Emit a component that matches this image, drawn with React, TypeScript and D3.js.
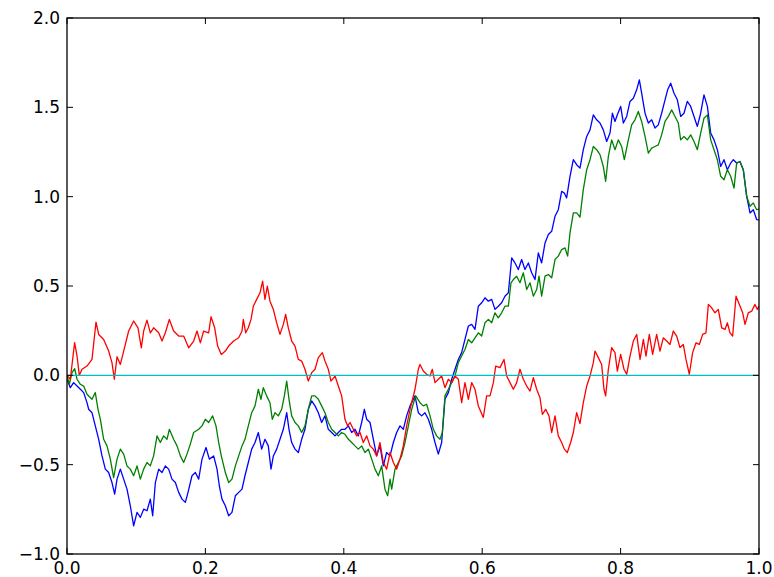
import * as d3 from 'd3'

// values: [t, value]
const blueSeries: [number, number][] = [
  [0,-0.022],[0.0048,-0.069],[0.0096,-0.041],[0.0145,-0.06],[0.0193,-0.078],[0.0241,-0.097],[0.0289,-0.153],[0.0313,-0.19],[0.0361,-0.209],[0.0409,-0.283],
  [0.0458,-0.358],[0.0506,-0.451],[0.0554,-0.525],[0.0602,-0.544],[0.065,-0.6],[0.0689,-0.665],[0.0723,-0.581],[0.0771,-0.525],[0.0819,-0.581],[0.0867,-0.637],
  [0.0915,-0.73],[0.0963,-0.842],[0.1012,-0.767],[0.106,-0.795],[0.1108,-0.749],[0.1156,-0.758],[0.1204,-0.693],[0.1238,-0.786],[0.1277,-0.6],[0.1325,-0.525],
  [0.1373,-0.544],[0.1421,-0.507],[0.1469,-0.525],[0.1517,-0.581],[0.1566,-0.6],[0.1614,-0.655],[0.1662,-0.693],[0.171,-0.711],[0.1749,-0.655],[0.1806,-0.562],
  [0.1855,-0.544],[0.1903,-0.581],[0.1951,-0.469],[0.2009,-0.404],[0.2057,-0.469],[0.2119,-0.451],[0.2168,-0.525],[0.2201,-0.618],[0.224,-0.693],[0.2288,-0.73],
  [0.2336,-0.786],[0.2384,-0.767],[0.2433,-0.674],[0.2481,-0.655],[0.2529,-0.637],[0.2572,-0.562],[0.262,-0.488],[0.2669,-0.413],[0.2717,-0.376],[0.2765,-0.32],
  [0.2813,-0.413],[0.2861,-0.358],[0.2909,-0.395],[0.2948,-0.525],[0.2982,-0.451],[0.303,-0.413],[0.3078,-0.358],[0.3126,-0.302],[0.3175,-0.209],[0.3208,-0.302],
  [0.3247,-0.376],[0.3295,-0.413],[0.3343,-0.432],[0.3391,-0.358],[0.3439,-0.302],[0.3487,-0.19],[0.3536,-0.143],[0.3584,-0.171],[0.3632,-0.209],[0.368,-0.264],
  [0.3728,-0.227],[0.3776,-0.302],[0.3825,-0.32],[0.3873,-0.339],[0.3921,-0.32],[0.3969,-0.302],[0.4017,-0.302],[0.4066,-0.283],[0.4114,-0.32],[0.4162,-0.302],
  [0.421,-0.339],[0.4258,-0.264],[0.4297,-0.19],[0.4331,-0.246],[0.4379,-0.264],[0.4427,-0.358],[0.4475,-0.451],[0.4523,-0.395],[0.4571,-0.507],[0.4619,-0.432],
  [0.4668,-0.451],[0.4716,-0.376],[0.4764,-0.32],[0.4812,-0.283],[0.486,-0.302],[0.4908,-0.227],[0.4957,-0.171],[0.5029,-0.115],[0.5077,-0.209],[0.5125,-0.227],
  [0.5173,-0.209],[0.5222,-0.246],[0.527,-0.302],[0.5318,-0.376],[0.5366,-0.441],[0.5414,-0.376],[0.5462,-0.134],[0.5511,-0.097],[0.5559,-0.022],[0.5607,0.034],
  [0.5655,0.089],[0.5703,0.127],[0.5751,0.201],[0.58,0.276],[0.5848,0.285],[0.5896,0.257],[0.5944,0.387],[0.5992,0.406],[0.604,0.434],[0.6089,0.415],
  [0.6137,0.425],[0.6185,0.369],[0.6233,0.387],[0.6281,0.406],[0.6329,0.443],[0.6378,0.462],[0.6426,0.657],[0.6474,0.629],[0.6522,0.592],[0.657,0.648],
  [0.6618,0.592],[0.6667,0.629],[0.6715,0.574],[0.6763,0.536],[0.6811,0.685],[0.6859,0.629],[0.6908,0.741],[0.6956,0.788],[0.7004,0.806],[0.7052,0.89],
  [0.71,0.927],[0.7148,1.03],[0.7187,1.02],[0.722,0.993],[0.7269,1.114],[0.7317,1.207],[0.7365,1.179],[0.7413,1.16],[0.7461,1.263],[0.751,1.337],
  [0.7558,1.374],[0.7606,1.458],[0.7654,1.43],[0.7702,1.412],[0.775,1.374],[0.7799,1.309],[0.7847,1.356],[0.7881,1.467],[0.7919,1.421],[0.7953,1.458],
  [0.8001,1.505],[0.804,1.412],[0.8088,1.449],[0.8136,1.533],[0.8184,1.551],[0.8232,1.598],[0.8271,1.654],[0.8304,1.579],[0.8353,1.467],[0.8401,1.412],
  [0.8449,1.43],[0.8497,1.384],[0.8545,1.402],[0.8593,1.467],[0.8642,1.542],[0.868,1.598],[0.8724,1.635],[0.8772,1.579],[0.882,1.542],[0.8868,1.449],
  [0.8916,1.467],[0.8964,1.533],[0.9013,1.505],[0.9061,1.449],[0.9109,1.393],[0.9157,1.467],[0.9205,1.57],[0.9254,1.505],[0.9302,1.356],[0.935,1.318],
  [0.9398,1.263],[0.9446,1.169],[0.9494,1.207],[0.9543,1.151],[0.9591,1.188],[0.9629,1.207],[0.9677,1.188],[0.9725,1.197],[0.9773,1.151],[0.9822,1.002],
  [0.987,0.909],[0.9918,0.927],[0.9966,0.872],[1,0.87],
]

const greenSeries: [number, number][] = [
  [0,-0.004],[0.0034,-0.05],[0.0072,0.015],[0.0111,0.037],[0.0145,-0.022],[0.0193,-0.05],[0.0241,-0.06],[0.0289,-0.106],[0.0361,-0.134],[0.0409,-0.097],
  [0.0448,-0.19],[0.0482,-0.246],[0.053,-0.358],[0.0578,-0.395],[0.0626,-0.469],[0.0674,-0.572],[0.0723,-0.469],[0.0771,-0.413],[0.0819,-0.441],[0.0867,-0.507],
  [0.0915,-0.525],[0.0963,-0.562],[0.1012,-0.507],[0.106,-0.581],[0.1108,-0.525],[0.1156,-0.488],[0.1204,-0.507],[0.1252,-0.451],[0.1301,-0.339],[0.1349,-0.376],
  [0.1397,-0.339],[0.1445,-0.358],[0.1479,-0.302],[0.1541,-0.358],[0.159,-0.395],[0.1638,-0.451],[0.1686,-0.488],[0.1734,-0.441],[0.1782,-0.385],[0.183,-0.32],
  [0.1903,-0.302],[0.1951,-0.283],[0.1999,-0.246],[0.2047,-0.264],[0.2105,-0.227],[0.2153,-0.283],[0.2192,-0.376],[0.223,-0.451],[0.2288,-0.544],[0.2336,-0.6],
  [0.2384,-0.581],[0.2433,-0.507],[0.2481,-0.451],[0.2529,-0.395],[0.2572,-0.358],[0.262,-0.283],[0.2669,-0.209],[0.2717,-0.171],[0.2765,-0.078],[0.2803,-0.134],
  [0.2837,-0.069],[0.2885,-0.115],[0.2933,-0.153],[0.2967,-0.246],[0.3006,-0.209],[0.3054,-0.227],[0.3102,-0.19],[0.3141,-0.115],[0.3175,-0.032],[0.3208,-0.134],
  [0.3247,-0.227],[0.3295,-0.264],[0.3343,-0.283],[0.3391,-0.32],[0.3439,-0.283],[0.3487,-0.19],[0.3536,-0.115],[0.3584,-0.115],[0.3632,-0.134],[0.368,-0.171],
  [0.3728,-0.209],[0.3776,-0.264],[0.3825,-0.302],[0.3873,-0.32],[0.3921,-0.339],[0.3969,-0.32],[0.4017,-0.33],[0.4066,-0.358],[0.4114,-0.376],[0.4162,-0.395],
  [0.421,-0.413],[0.4258,-0.395],[0.4306,-0.432],[0.4355,-0.413],[0.4403,-0.469],[0.4451,-0.525],[0.4499,-0.562],[0.4547,-0.507],[0.4595,-0.637],[0.4634,-0.674],
  [0.4668,-0.581],[0.4692,-0.637],[0.474,-0.525],[0.4788,-0.488],[0.4836,-0.451],[0.4884,-0.376],[0.4933,-0.283],[0.4981,-0.19],[0.5039,-0.115],[0.5101,-0.153],
  [0.5149,-0.171],[0.5197,-0.162],[0.5246,-0.227],[0.5294,-0.302],[0.5342,-0.339],[0.539,-0.358],[0.5424,-0.32],[0.5462,-0.115],[0.5511,-0.078],[0.5559,-0.041],
  [0.5607,-0.004],[0.5655,0.071],[0.5703,0.108],[0.5751,0.145],[0.58,0.201],[0.5848,0.182],[0.5896,0.21],[0.5944,0.238],[0.5992,0.22],[0.604,0.294],
  [0.6089,0.313],[0.6137,0.294],[0.6185,0.35],[0.6233,0.322],[0.6281,0.35],[0.6329,0.387],[0.6378,0.387],[0.6416,0.518],[0.645,0.536],[0.6498,0.555],
  [0.6546,0.518],[0.6594,0.574],[0.6643,0.48],[0.6691,0.518],[0.6739,0.443],[0.6787,0.48],[0.6821,0.555],[0.6859,0.443],[0.6908,0.555],[0.6956,0.564],
  [0.7004,0.546],[0.7052,0.648],[0.71,0.667],[0.7148,0.704],[0.7197,0.713],[0.7235,0.667],[0.7269,0.797],[0.7317,0.909],[0.7365,0.909],[0.7413,0.885],
  [0.7461,1.039],[0.751,1.151],[0.7558,1.207],[0.7606,1.281],[0.7654,1.263],[0.7702,1.235],[0.775,1.169],[0.7784,1.086],[0.7823,1.225],[0.7871,1.318],
  [0.7919,1.263],[0.7967,1.318],[0.8015,1.281],[0.8054,1.207],[0.8112,1.318],[0.816,1.402],[0.8208,1.43],[0.8256,1.477],[0.8304,1.421],[0.8353,1.337],
  [0.8401,1.244],[0.8449,1.272],[0.8497,1.281],[0.8545,1.29],[0.8593,1.346],[0.8642,1.421],[0.869,1.449],[0.8738,1.486],[0.8786,1.449],[0.8834,1.412],
  [0.8868,1.318],[0.8916,1.337],[0.8964,1.318],[0.9013,1.346],[0.9061,1.309],[0.9109,1.263],[0.9157,1.356],[0.9205,1.439],[0.9254,1.458],[0.9302,1.318],
  [0.935,1.263],[0.9398,1.207],[0.9446,1.114],[0.9494,1.095],[0.9543,1.151],[0.9591,1.114],[0.9639,1.048],[0.9677,1.188],[0.9725,1.197],[0.9773,1.151],
  [0.9822,1.002],[0.987,0.946],[0.9918,0.965],[0.9966,0.927],[1,0.93],
]

const redSeries: [number, number][] = [
  [0,0],[0.0048,-0.022],[0.011,0.183],[0.0145,0.108],[0.0178,0],[0.0217,0.034],[0.0289,0.052],[0.0361,0.089],[0.0419,0.298],[0.0458,0.229],
  [0.053,0.201],[0.0602,0.136],[0.065,0.071],[0.0684,-0.022],[0.0723,0.104],[0.0771,0.061],[0.0819,0.136],[0.0891,0.248],[0.0963,0.304],[0.1026,0.266],
  [0.1074,0.154],[0.1108,0.248],[0.1156,0.309],[0.1204,0.238],[0.1252,0.266],[0.1325,0.238],[0.1373,0.192],[0.1421,0.238],[0.1479,0.313],[0.1541,0.248],
  [0.1614,0.22],[0.1686,0.22],[0.1758,0.154],[0.183,0.192],[0.1879,0.248],[0.1927,0.182],[0.1975,0.248],[0.2047,0.238],[0.2081,0.328],[0.2134,0.266],
  [0.2177,0.164],[0.223,0.117],[0.2288,0.136],[0.2336,0.164],[0.2408,0.192],[0.2481,0.21],[0.2529,0.248],[0.2548,0.313],[0.2582,0.238],[0.262,0.266],
  [0.2659,0.313],[0.2693,0.387],[0.2741,0.425],[0.2789,0.462],[0.2827,0.527],[0.2861,0.425],[0.2895,0.499],[0.2933,0.415],[0.2982,0.369],[0.303,0.294],
  [0.3078,0.229],[0.3126,0.285],[0.316,0.341],[0.3198,0.266],[0.3247,0.192],[0.3295,0.164],[0.3343,0.089],[0.3391,0.08],[0.3439,0.034],[0.3487,-0.032],
  [0.3536,0.015],[0.3584,0.034],[0.3632,0.099],[0.369,0.127],[0.3728,0.08],[0.3776,0.034],[0.3815,-0.032],[0.3873,-0.004],[0.3921,-0.06],[0.3969,-0.115],
  [0.4017,-0.246],[0.4056,-0.283],[0.409,-0.264],[0.4138,-0.302],[0.4186,-0.339],[0.4234,-0.32],[0.4282,-0.376],[0.4331,-0.339],[0.4379,-0.395],[0.4427,-0.413],
  [0.4475,-0.451],[0.4523,-0.376],[0.4571,-0.488],[0.4619,-0.525],[0.4668,-0.432],[0.4716,-0.488],[0.4764,-0.525],[0.4812,-0.469],[0.486,-0.395],[0.4908,-0.283],
  [0.4957,-0.19],[0.5029,-0.078],[0.5077,0.034],[0.5101,0.061],[0.5149,0.024],[0.5197,0.006],[0.5246,-0.004],[0.5279,0.034],[0.5318,-0.041],[0.5366,-0.022],
  [0.5414,-0.004],[0.5462,-0.069],[0.5511,-0.022],[0.5559,-0.041],[0.5607,-0.004],[0.5655,-0.022],[0.5703,-0.153],[0.5751,-0.041],[0.58,-0.134],[0.5848,-0.041],
  [0.5896,-0.078],[0.5944,-0.171],[0.6016,-0.236],[0.6064,-0.115],[0.6113,-0.115],[0.6161,-0.041],[0.6195,0.052],[0.6257,0.043],[0.6315,0.089],[0.6354,-0.004],
  [0.6402,-0.041],[0.645,-0.078],[0.6498,-0.041],[0.6546,0.034],[0.6594,-0.022],[0.6643,-0.06],[0.6691,-0.088],[0.6739,-0.013],[0.6787,-0.078],[0.6835,-0.125],
  [0.6869,-0.218],[0.6917,-0.19],[0.6965,-0.227],[0.7004,-0.32],[0.7052,-0.227],[0.71,-0.339],[0.7148,-0.376],[0.7187,-0.413],[0.723,-0.432],[0.7278,-0.376],
  [0.7317,-0.32],[0.7365,-0.209],[0.7413,-0.27],[0.7461,-0.153],[0.751,-0.06],[0.7558,-0.004],[0.7606,0.071],[0.763,0.136],[0.7678,0.099],[0.7726,0.061],
  [0.776,-0.078],[0.7784,-0.115],[0.7823,0.034],[0.7871,0.155],[0.7919,0.127],[0.7953,0.024],[0.8001,0.117],[0.8049,0.034],[0.8088,0.006],[0.8136,0.108],
  [0.8184,0.192],[0.8232,0.229],[0.8281,0.089],[0.8329,0.201],[0.8367,0.108],[0.8415,0.229],[0.8463,0.117],[0.8521,0.229],[0.8569,0.136],[0.8617,0.21],
  [0.8666,0.192],[0.8714,0.173],[0.8762,0.248],[0.881,0.22],[0.8858,0.155],[0.8906,0.173],[0.8945,0.089],[0.8993,0.006],[0.9041,0.127],[0.909,0.182],
  [0.9138,0.173],[0.9186,0.229],[0.9234,0.238],[0.9268,0.397],[0.9316,0.378],[0.9364,0.35],[0.9412,0.369],[0.9461,0.266],[0.9509,0.257],[0.9543,0.294],
  [0.9581,0.238],[0.9619,0.22],[0.9668,0.443],[0.9716,0.397],[0.9764,0.35],[0.9798,0.285],[0.9846,0.35],[0.9894,0.359],[0.9942,0.397],[0.9976,0.369],
  [1,0.39],
]

const baseline: [number, number][] = [[0, 0], [1, 0]]

const xTicks = [0, 0.2, 0.4, 0.6, 0.8, 1.0]
const yTicks = [-1.0, -0.5, 0.0, 0.5, 1.0, 1.5, 2.0]

const W = 774, H = 577
const left = 67, right = 759, top = 18, bottom = 554

export default function App() {
  const x = d3.scaleLinear().domain([0, 1]).range([left, right])
  const y = d3.scaleLinear().domain([-1, 2]).range([bottom, top])
  const line = d3.line<[number, number]>().x(d => x(d[0])).y(d => y(d[1]))
  const fmtX = (v: number) => v.toFixed(1)
  const fmtY = (v: number) => (v < 0 ? '\u2212' + Math.abs(v).toFixed(1) : v.toFixed(1))
  const tl = 6

  const series: [string, [number, number][]][] = [
    ['#0000ff', blueSeries],
    ['#008000', greenSeries],
    ['#ff0000', redSeries],
    ['#00bfbf', baseline],
  ]

  return (
    <svg width={W} height={H} style={{ position: 'absolute', left: 0, top: 0, background: '#fff' }}
      fontFamily="'DejaVu Sans', sans-serif" fontSize={17}>
      <defs>
        <clipPath id="plot"><rect x={left} y={top} width={right - left} height={bottom - top} /></clipPath>
      </defs>
      <g clipPath="url(#plot)">
        {series.map(([c, d], i) => (
          <path key={i} d={line(d) ?? ''} fill="none" stroke={c} strokeWidth={1.3} strokeLinejoin="round" />
        ))}
      </g>
      {xTicks.map(t => (
        <g key={'x' + t}>
          <line x1={x(t)} x2={x(t)} y1={bottom} y2={bottom - tl} stroke="#000" />
          <line x1={x(t)} x2={x(t)} y1={top} y2={top + tl} stroke="#000" />
          <text x={x(t)} y={bottom + 20} textAnchor="middle">{fmtX(t)}</text>
        </g>
      ))}
      {yTicks.map(t => (
        <g key={'y' + t}>
          <line x1={left} x2={left + tl} y1={y(t)} y2={y(t)} stroke="#000" />
          <line x1={right} x2={right - tl} y1={y(t)} y2={y(t)} stroke="#000" />
          <text x={left - 7} y={y(t)} dy="0.36em" textAnchor="end">{fmtY(t)}</text>
        </g>
      ))}
      <rect x={left} y={top} width={right - left} height={bottom - top} fill="none" stroke="#000" strokeWidth={1.3} />
    </svg>
  )
}
